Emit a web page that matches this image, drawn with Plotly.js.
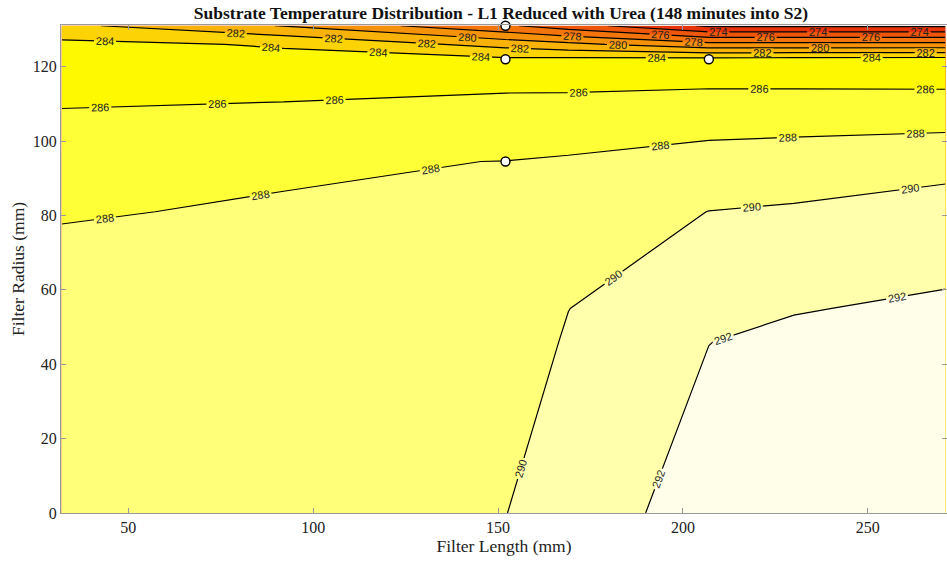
<!DOCTYPE html>
<html>
<head>
<meta charset="utf-8">
<script src="https://cdn.plot.ly/plotly-3.0.1.min.js"></script>
<style>
  html, body { margin: 0; padding: 0; background: #ffffff; }
  #chart { width: 947px; height: 562px; }
</style>
</head>
<body>
<div id="chart"></div>
<script>
// Grid positions (mm)
const filterLength = [32, 92, 152, 169, 207, 230, 271];
const filterRadius = [0, 46, 55, 81, 94.5, 113, 122, 126, 131];

// Substrate temperature (K), one row per radius value
const temp_r0    = [289.6, 289.8, 289.97, 290.9, 292.9, 293.1, 293.3];
const temp_r46   = [288.7, 288.84, 289.0, 290.18, 291.98, 292.4, 292.5];
const temp_r55   = [288.55, 288.65, 288.82, 289.98, 291.48, 291.9, 292.3];
const temp_r81   = [287.92, 288.11, 288.28, 289.0, 290.02, 290.2, 290.8];
const temp_r94   = [286.94, 287.84, 288.02, 288.2, 288.8, 289.0, 289.35];
const temp_r113  = [285.72, 285.72, 285.99, 286.0, 286.2, 286.17, 286.15];
const temp_r122  = [284.85, 284.5, 284.33, 284.4, 284.5, 284.65, 284.7];
const temp_r126  = [284.5, 283.82, 281.3, 280.5, 278.6, 278.6, 278.6];
const temp_r131  = [282.45, 279.9, 276.3, 274.9, 271.7, 271.7, 271.7];

// Sensor positions (white circles)
const sensorX = [152, 152, 152, 207];
const sensorY = [131, 122, 94.5, 122];

// Contour levels
const levelStart = 272, levelEnd = 292, levelStep = 2;

// Band colours, lowest band first (<272 ... >292)
const bandColors = [
  'rgb(220,22,15)', 'rgb(232,52,10)', 'rgb(238,86,10)', 'rgb(243,116,10)',
  'rgb(246,146,10)', 'rgb(249,178,8)', 'rgb(252,212,5)', 'rgb(255,249,0)',
  'rgb(255,255,55)', 'rgb(255,255,122)', 'rgb(255,255,172)', 'rgb(255,255,233)'
];

const zGrid = [temp_r0, temp_r46, temp_r55, temp_r81, temp_r94, temp_r113, temp_r122, temp_r126, temp_r131];
const colorscale = bandColors.map((c, i) => [i / (bandColors.length - 1), c]);

const serif = 'Liberation Serif, Times New Roman, serif';

// Filled bands (no lines)
const fillTrace = {
  type: 'contour',
  x: filterLength, y: filterRadius, z: zGrid,
  autocontour: false,
  contours: { start: levelStart, end: levelEnd, size: levelStep, coloring: 'fill', showlabels: false },
  line: { width: 0, smoothing: 0 },
  colorscale: colorscale,
  showscale: false,
  hoverinfo: 'skip'
};

// Iso-lines with inline labels. The level list is extended past the data
// range (empty levels draw nothing) so Plotly spaces labels more densely.
const lineTrace = {
  type: 'contour',
  x: filterLength, y: filterRadius, z: zGrid,
  autocontour: false,
  contours: {
    start: levelStart, end: levelEnd + 120 * levelStep, size: levelStep,
    coloring: 'none',
    showlabels: true,
    labelfont: { family: 'Liberation Sans, Arial, sans-serif', size: 11, color: '#222' },
    labelformat: '.0f'
  },
  line: { color: '#000', width: 1.2, smoothing: 0 },
  showscale: false,
  hoverinfo: 'skip'
};

const sensorTrace = {
  type: 'scatter',
  mode: 'markers',
  x: sensorX,
  y: sensorY,
  marker: { size: 9, color: '#fff', line: { color: '#000', width: 1.4 } },
  cliponaxis: false,
  hoverinfo: 'skip',
  showlegend: false
};

const layout = {
  width: 947, height: 562,
  margin: { l: 61, r: 0, t: 25, b: 49 },
  paper_bgcolor: '#fff', plot_bgcolor: '#fff',
  showlegend: false,
  title: {
    text: 'Substrate Temperature Distribution - L1 Reduced with Urea (148 minutes into S2)',
    font: { family: serif, size: 17.5, color: '#111', weight: 'bold' },
    x: 0.529, xanchor: 'center', y: 0.977, yanchor: 'middle'
  },
  xaxis: {
    range: [31.8, 271.4],
    tickvals: [50, 100, 150, 200, 250],
    ticks: 'inside', ticklen: 5, tickcolor: '#999',
    showline: true, linecolor: '#999', linewidth: 1, mirror: 'ticks',
    showgrid: false, zeroline: false,
    tickfont: { family: serif, size: 16, color: '#222' },
    title: { text: 'Filter Length (mm)', font: { family: serif, size: 17.5, color: '#222' }, standoff: 4 }
  },
  yaxis: {
    range: [0, 131.2],
    tickvals: [0, 20, 40, 60, 80, 100, 120],
    ticks: 'inside', ticklen: 5, tickcolor: '#999',
    showline: true, linecolor: '#999', linewidth: 1, mirror: 'ticks',
    showgrid: false, zeroline: false,
    tickfont: { family: serif, size: 16, color: '#222' },
    title: { text: 'Filter Radius (mm)', font: { family: serif, size: 17.5, color: '#222' }, standoff: 3 }
  }
};

Plotly.newPlot('chart', [fillTrace, lineTrace, sensorTrace], layout, { staticPlot: true, displayModeBar: false });
</script>
</body>
</html>
